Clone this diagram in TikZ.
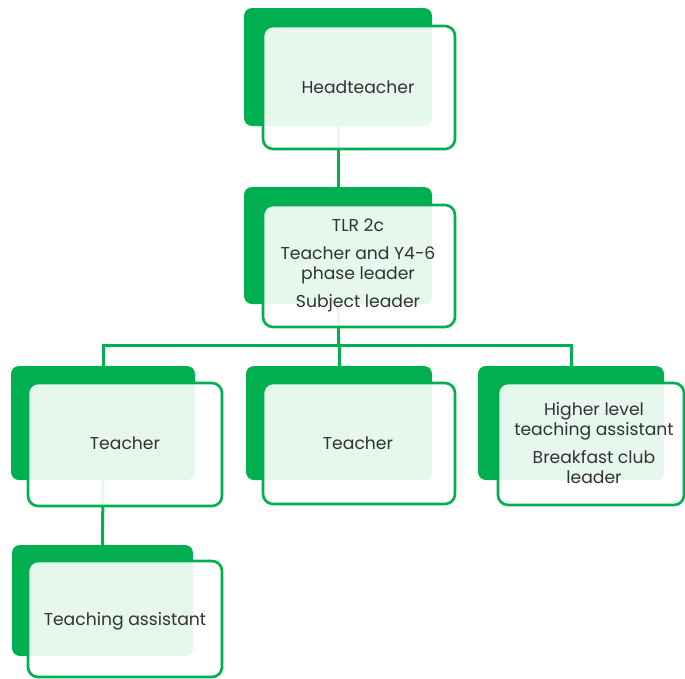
\documentclass[tikz,border=0pt]{standalone}
\usepackage{fontspec}
\setmainfont{Poppins}
\definecolor{grn}{HTML}{00B050}
\definecolor{txt}{HTML}{333333}
\tikzset{
  backbox/.style={fill=grn, draw=none, rounded corners=8pt, inner sep=0pt},
  frontbox/.style={draw=grn, line width=2.6pt, fill=white, fill opacity=0.9, rounded corners=10pt, inner sep=0pt},
  lbl/.style={text=txt, font=\fontsize{17.2}{20}\selectfont, align=center, inner sep=0pt},
  conn/.style={draw=grn, line width=3pt}
}
\begin{document}
\begin{tikzpicture}[x=1pt,y=-1pt]
\useasboundingbox (0,0) rectangle (685,678);
% back boxes
\node[backbox, minimum width=188pt, minimum height=118pt] (hb) at (338,67) {};
\node[backbox, minimum width=188pt, minimum height=117pt] (tb) at (338,245.5) {};
\node[backbox, minimum width=184pt, minimum height=114pt] (t1b) at (103,423) {};
\node[backbox, minimum width=186pt, minimum height=114pt] (t2b) at (339,423) {};
\node[backbox, minimum width=186pt, minimum height=114pt] (hlb) at (571,423) {};
\node[backbox, minimum width=181pt, minimum height=111pt] (tab) at (102.5,600.5) {};
% connectors
\coordinate (bus) at (338,345);
\draw[conn] (hb.south) -- (tb.north);
\draw[conn] (tb.south) -- (bus);
\draw[conn] (bus) -| (t1b.north);
\draw[conn] (bus) -| (hlb.north);
\draw[conn] (bus) -| (t2b.north);
\draw[conn] (t1b.south) -- (tab.north);
% front boxes
\node[frontbox, minimum width=192pt, minimum height=123pt] (hf) at (359,87.5) {};
\node[frontbox, minimum width=192pt, minimum height=122pt] (tf) at (359,266) {};
\node[frontbox, minimum width=194pt, minimum height=123pt] (t1f) at (125,444.5) {};
\node[frontbox, minimum width=192pt, minimum height=121pt] (t2f) at (359,443.5) {};
\node[frontbox, minimum width=186pt, minimum height=122pt] (hlf) at (591,444) {};
\node[frontbox, minimum width=194pt, minimum height=116pt] (taf) at (125,619) {};
% labels
\node[lbl] (hl) at (358,87) {Headteacher};
\node[lbl] (tl) at (358,265) {TLR 2c\\[8pt]Teacher and Y4-6\\phase leader\\[8pt]Subject leader};
\node[lbl] (t1l) at (125,443) {Teacher};
\node[lbl] (t2l) at (358,443) {Teacher};
\node[lbl] (hll) at (594,443) {Higher level\\teaching assistant\\[8pt]Breakfast club\\leader};
\node[lbl] (tal) at (125,621) {Teaching assistant};
\end{tikzpicture}
\end{document}
